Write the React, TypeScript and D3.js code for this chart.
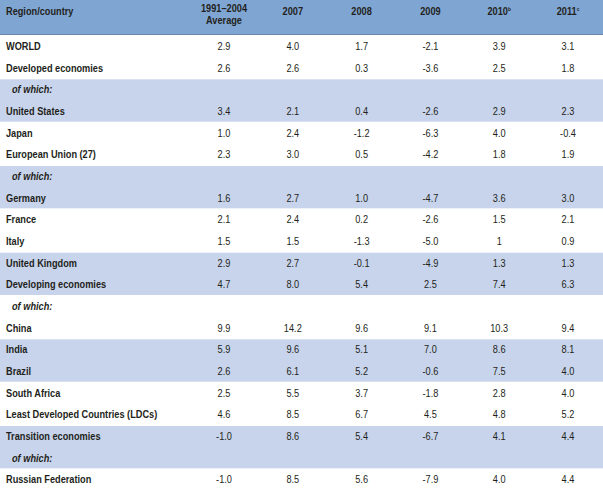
import React from "react";
import * as d3 from "d3";

const headers = ["1991–2004|Average", "2007", "2008", "2009", "2010|b", "2011|c"];
const labels = [
  "WORLD", "Developed economies", "of which:", "United States", "Japan", "European Union (27)",
  "of which:", "Germany", "France", "Italy", "United Kingdom", "Developing economies", "of which:",
  "China", "India", "Brazil", "South Africa", "Least Developed Countries (LDCs)", "Transition economies",
  "of which:", "Russian Federation",
];
const avg = ["2.9", "2.6", "", "3.4", "1.0", "2.3", "", "1.6", "2.1", "1.5", "2.9", "4.7", "", "9.9", "5.9", "2.6", "2.5", "4.6", "-1.0", "", "-1.0"];
const y2007 = ["4.0", "2.6", "", "2.1", "2.4", "3.0", "", "2.7", "2.4", "1.5", "2.7", "8.0", "", "14.2", "9.6", "6.1", "5.5", "8.5", "8.6", "", "8.5"];
const y2008 = ["1.7", "0.3", "", "0.4", "-1.2", "0.5", "", "1.0", "0.2", "-1.3", "-0.1", "5.4", "", "9.6", "5.1", "5.2", "3.7", "6.7", "5.4", "", "5.6"];
const y2009 = ["-2.1", "-3.6", "", "-2.6", "-6.3", "-4.2", "", "-4.7", "-2.6", "-5.0", "-4.9", "2.5", "", "9.1", "7.0", "-0.6", "-1.8", "4.5", "-6.7", "", "-7.9"];
const y2010 = ["3.9", "2.5", "", "2.9", "4.0", "1.8", "", "3.6", "1.5", "1", "1.3", "7.4", "", "10.3", "8.6", "7.5", "2.8", "4.8", "4.1", "", "4.0"];
const y2011 = ["3.1", "1.8", "", "2.3", "-0.4", "1.9", "", "3.0", "2.1", "0.9", "1.3", "6.3", "", "9.4", "8.1", "4.0", "4.0", "5.2", "4.4", "", "4.4"];
const shaded = [2, 3, 6, 7, 10, 11, 14, 15, 18, 19];

const W = 603;
const H = 490;
const HEADER = 35;
const FONT = "'Liberation Sans', Arial, sans-serif";
const TEXT = "#231f20";
const SX = 0.8;

function T(props: any) {
  const { x, y, children, ...rest } = props;
  return (
    <text transform={`translate(${x},${y}) scale(${SX},1)`} fontSize={11.5} fill={TEXT} {...rest}>
      {children}
    </text>
  );
}

export default function App() {
  const columns = [avg, y2007, y2008, y2009, y2010, y2011];
  const rowIdx = labels.map((_, i) => i);
  const y = d3.scaleBand<number>().domain(rowIdx).range([HEADER, H]).paddingInner(0);
  const x = d3.scalePoint<number>().domain(d3.range(columns.length)).range([224, 568]);

  return (
    <svg width={W} height={H} style={{ position: "absolute", left: 0, top: 0, display: "block" }} fontFamily={FONT}>
      <rect x={0} y={0} width={W} height={H} fill="#ffffff" />
      <rect x={0} y={0} width={W} height={HEADER} fill="#7fa6d3" />
      <line x1={0} x2={W} y1={HEADER - 0.5} y2={HEADER - 0.5} stroke="#6a86aa" strokeWidth={1} />
      {rowIdx.filter((i) => shaded.includes(i) && !shaded.includes(i - 1)).map((i) => {
        const y0 = y(i)!;
        const y1 = y(i + 1)! + y.bandwidth();
        return <rect key={"b" + i} x={0} y={y0 + 1} width={W} height={y1 - y0 - 1} fill="#c8d4eb" />;
      })}
      <T x={6} y={15} fontWeight="bold">Region/country</T>
      {headers.map((h, j) => {
        const parts = h.split("|");
        const cx = x(j)!;
        if (j === 0) {
          return (
            <g key={"h" + j}>
              <T x={cx} y={12} fontWeight="bold" textAnchor="middle">{parts[0]}</T>
              <T x={cx} y={24} fontWeight="bold" textAnchor="middle">{parts[1]}</T>
            </g>
          );
        }
        return (
          <T key={"h" + j} x={cx} y={15} fontWeight="bold" textAnchor="middle">
            {parts[0]}
            {parts[1] ? <tspan fontSize={6} dy={-4}>{parts[1]}</tspan> : null}
          </T>
        );
      })}
      {labels.map((l, i) => {
        const cy = y(i)! + y.bandwidth() / 2 + 4;
        const isSub = l === "of which:";
        return (
          <g key={"r" + i}>
            <T x={isSub ? 12 : 6} y={cy} fontWeight="bold" fontStyle={isSub ? "italic" : "normal"}>{l}</T>
            {columns.map((col, j) => (
              <T key={j} x={x(j)!} y={cy} textAnchor="middle">{col[i]}</T>
            ))}
          </g>
        );
      })}
    </svg>
  );
}
